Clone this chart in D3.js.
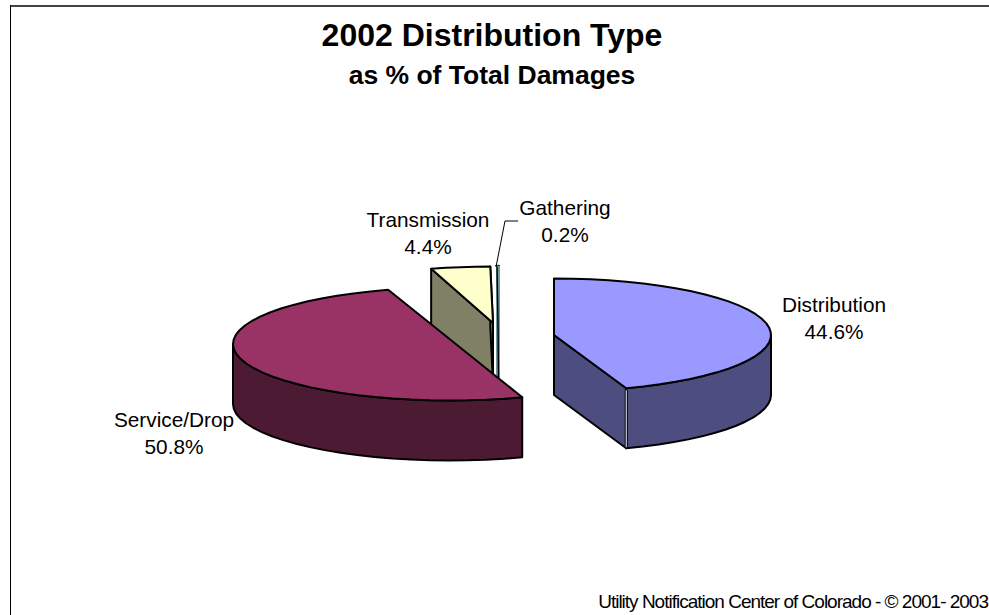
<!DOCTYPE html>
<html>
<head>
<meta charset="utf-8">
<script src="https://cdn.jsdelivr.net/npm/d3@7"></script>
<style>
    html, body { margin: 0; padding: 0; background: #fff; }
    text { font-family: "Liberation Sans", Arial, sans-serif; fill: #000; }
</style>
</head>
<body>
<div id="chart"></div>
<script>
const categories = ["Distribution", "Service/Drop", "Transmission", "Gathering"];
const percents = [44.6, 50.8, 4.4, 0.2];
const percentLabels = ["44.6%", "50.8%", "4.4%", "0.2%"];
const topColors = ["#9999ff", "#993366", "#ffffcc", "#ccffff"];
const wallColors = ["#4d4d80", "#4d1a33", "#808066", "#6f9ca0"];

function init() {
    const width = 989;
    const height = 615;
    const rx = 217;
    const ry = 56.5;
    const depth = 60;

    // slice apex after the explode
    const apex = [[554, 335], [450, 344], [493, 323], [498, 323]];
    const labelPos = [[834, 312], [174, 427], [428, 227], [565, 215]];

    const svg = d3.select("#chart")
        .append("svg")
        .attr("width", width)
        .attr("height", height)
        .style("display", "block");

    // frame is cut off at the right and bottom of the picture
    svg.append("line")
        .attr("x1", 10).attr("y1", 6).attr("x2", width).attr("y2", 6)
        .attr("stroke", "#444").attr("stroke-width", 2);
    svg.append("line")
        .attr("x1", 10.5).attr("y1", 5).attr("x2", 10.5).attr("y2", height)
        .attr("stroke", "#000").attr("stroke-width", 1);

    const arcs = d3.pie().sort(null)(percents);

    function rim(i, a, drop) {
        return [apex[i][0] + rx * Math.sin(a), apex[i][1] - ry * Math.cos(a) + (drop || 0)];
    }

    // rim points every few degrees, the old renderer draws the oval as short segments
    function rimPoints(i, a0, a1, drop) {
        const n = Math.max(1, Math.ceil((a1 - a0) / (5 * Math.PI / 180)));
        return d3.range(n + 1).map(k => rim(i, a0 + (a1 - a0) * k / n, drop));
    }

    const line = d3.line();

    function face(points, fill, stroke, strokeWidth) {
        svg.append("path")
            .attr("d", line(points) + "Z")
            .attr("fill", fill)
            .attr("stroke", stroke || "#000")
            .attr("stroke-width", strokeWidth || 2)
            .attr("stroke-linejoin", "round");
    }

    // back to front: gathering, transmission, distribution, service/drop
    [3, 2, 0, 1].forEach(function (i) {
        const d = arcs[i];
        const c = apex[i];
        const rimTop = rimPoints(i, d.startAngle, d.endAngle);
        const s = rim(i, d.startAngle);
        const sWall = [c, s, rim(i, d.startAngle, depth), [c[0], c[1] + depth]];
        const e = rim(i, d.endAngle);
        const eWall = [c, e, rim(i, d.endAngle, depth), [c[0], c[1] + depth]];

        if (i === 3) {
            // too thin for an outline, so it is a teal sliver with a black core
            face(eWall, wallColors[i], wallColors[i], 4);
            svg.append("path")
                .attr("d", line([[e[0] - 1, e[1]], [c[0], c[1]], [c[0] + 0.5, c[1] + depth - 2]]))
                .attr("fill", "none").attr("stroke", "#000").attr("stroke-width", 1.4);
            svg.append("path")
                .attr("d", line([[e[0] - 3, e[1] - 1], [e[0] + 2, e[1] - 1]]))
                .attr("fill", "none").attr("stroke", "#333").attr("stroke-width", 1);
            return;
        }

        if (i === 0) {
            face(eWall, wallColors[i]);
            const from = Math.PI / 2;
            face([...rimPoints(i, from, d.endAngle), ...rimPoints(i, from, d.endAngle, depth).reverse()], wallColors[i]);
            // white seam between the cut face and the outer wall
            svg.append("line")
                .attr("x1", e[0]).attr("y1", e[1] + 2)
                .attr("x2", e[0]).attr("y2", e[1] + depth - 1)
                .attr("stroke", "#000").attr("stroke-width", 3);
            svg.append("line")
                .attr("x1", e[0]).attr("y1", e[1] + 2)
                .attr("x2", e[0]).attr("y2", e[1] + depth - 1)
                .attr("stroke", "#fff").attr("stroke-width", 1);
        } else if (i === 1) {
            const to = 1.5 * Math.PI;
            face([...rimPoints(i, d.startAngle, to), ...rimPoints(i, d.startAngle, to, depth).reverse()], wallColors[i]);
        } else {
            face(sWall, wallColors[i]);
            face(eWall, wallColors[i]);
        }
        // the big slice is almost a half, the reference closes it with one straight edge
        face(i === 1 ? rimTop : [c, ...rimTop], topColors[i]);
    });

    // leader for the smallest slice
    svg.append("path")
        .attr("d", line([[518, 221], [505, 221], [496, 267]]))
        .attr("fill", "none")
        .attr("stroke", "#000")
        .attr("stroke-width", 1);

    categories.forEach(function (name, i) {
        const t = svg.append("text")
            .attr("text-anchor", "middle")
            .attr("font-size", 20.8);
        t.append("tspan").attr("x", labelPos[i][0]).attr("y", labelPos[i][1]).text(name);
        t.append("tspan").attr("x", labelPos[i][0]).attr("y", labelPos[i][1] + 27).text(percentLabels[i]);
    });

    svg.append("text").attr("x", 492).attr("y", 46)
        .attr("text-anchor", "middle").attr("font-size", 32).attr("font-weight", "bold")
        .text("2002 Distribution Type");
    svg.append("text").attr("x", 492).attr("y", 84)
        .attr("text-anchor", "middle").attr("font-size", 26.5).attr("font-weight", "bold")
        .text("as % of Total Damages");
    svg.append("text").attr("x", 988).attr("y", 608)
        .attr("text-anchor", "end").attr("font-size", 19).attr("letter-spacing", -1)
        .text("Utility Notification Center of Colorado - © 2001- 2003");
}

window.onload = init;
</script>
</body>
</html>
